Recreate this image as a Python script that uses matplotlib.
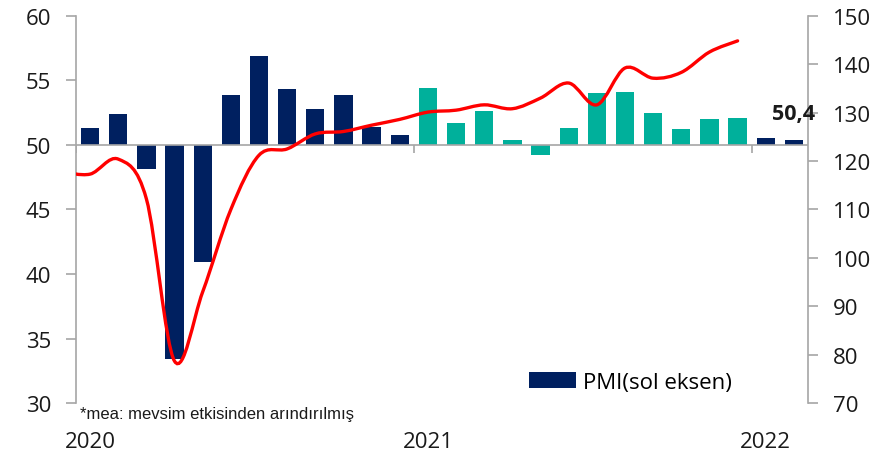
import numpy as np
import matplotlib
matplotlib.use("Agg")
import matplotlib.pyplot as plt
from matplotlib.path import Path
from matplotlib.patches import PathPatch

# PMI (sol eksen), Ocak 2020 - Subat 2022
pmi = [51.3, 52.4, 48.1, 33.4, 40.9, 53.9, 56.9, 54.3, 52.8, 53.9, 51.4, 50.8,
       54.4, 51.7, 52.6, 50.4, 49.2, 51.3, 54.0, 54.1, 52.5, 51.2, 52.0, 52.1,
       50.5, 50.4]
years = ["2020", "2021", "2022"]
year_pos = [0, 12, 24]

# sag eksen serisi, Aralik 2019 - Aralik 2021 (ilk nokta eksen disinda kalir)
line_x = list(range(-1, 24))
line_y = [117.8, 117.3, 120.4, 112.2, 78.7, 93.0, 110.0, 121.2, 122.5, 125.6,
          126.1, 127.4, 128.6, 130.1, 130.5, 131.6, 130.8, 133.0, 136.1, 131.6,
          139.2, 137.1, 138.3, 142.5, 144.8]

navy = "#002060"
teal = "#00B09B"
gray = "#A6A6A6"
txt = "#1a1a1a"

plt.rcParams["font.family"] = ["Open Sans", "DejaVu Sans"]

fig = plt.figure(figsize=(8.95, 4.56), dpi=100)
ax = fig.add_axes([0.0849, 0.1134, 0.8179, 0.85])
ax2 = ax.twinx()

x = np.arange(len(pmi))
colors = [teal if 12 <= i < 24 else navy for i in x]
ax.bar(x, np.array(pmi) - 50, bottom=50, width=0.65, color=colors, zorder=2)
ax.bar([0], [0], bottom=50, color=navy, label="PMI(sol eksen)")
ax.axhline(50, color=gray, lw=1.2, zorder=3)
ax.vlines([-0.5, 11.5, 23.5], 49.35, 50, color=gray, lw=1.2, zorder=3)

ax.set_xlim(-0.5, len(pmi) - 0.5)
ax.set_ylim(30, 60)
ax.set_yticks(range(30, 61, 5))
ax.set_xticks(year_pos)
ax.set_xticklabels(years)
ax.tick_params(axis="x", length=0, pad=20, labelsize=16, colors=txt)
ax.tick_params(axis="y", length=7, width=1.2, color=gray, pad=11,
               labelsize=16, labelcolor=txt)

ax2.set_ylim(70, 150)
ax2.set_yticks(range(70, 151, 10))
ax2.tick_params(axis="y", length=7, width=1.2, color=gray, pad=11,
                labelsize=16, labelcolor=txt)

for a in (ax, ax2):
    for s in ("top", "bottom"):
        a.spines[s].set_visible(False)
    a.spines["left"].set_color(gray)
    a.spines["right"].set_color(gray)
    a.spines["left"].set_linewidth(1.2)
    a.spines["right"].set_linewidth(1.2)
ax.spines["right"].set_visible(False)
ax2.spines["left"].set_visible(False)

# smoothed line like the Excel chart (Catmull-Rom as bezier)
pts = np.column_stack([line_x, line_y]).astype(float)
verts = [tuple(pts[0])]
codes = [Path.MOVETO]
n = len(pts)
for i in range(n - 1):
    p0 = pts[max(i - 1, 0)]
    p1 = pts[i]
    p2 = pts[i + 1]
    p3 = pts[min(i + 2, n - 1)]
    c1 = p1 + (p2 - p0) / 6.0
    c2 = p2 - (p3 - p1) / 6.0
    verts += [tuple(c1), tuple(c2), tuple(p2)]
    codes += [Path.CURVE4] * 3
ax2.add_patch(PathPatch(Path(verts, codes), fill=False, edgecolor="#FF0000",
                        lw=2.4, capstyle="round", zorder=4))

ax2.text(25.0, pmi[-1] + 2.0, "50,4", transform=ax.transData, fontsize=15.5,
         fontweight="bold", ha="center", va="center", color=txt, zorder=6,
         clip_on=False)

ax.legend(loc="lower left", bbox_to_anchor=(0.607, 0.004), frameon=False,
          fontsize=16, handlelength=2.1, handleheight=0.7, handletextpad=0.3,
          borderaxespad=0)

fig.text(0.0894, 0.092, "*mea: mevsim etkisinden arındırılmış", fontsize=12,
         family="Liberation Sans", color=txt, va="center")

fig.savefig("out.png", dpi=100)
